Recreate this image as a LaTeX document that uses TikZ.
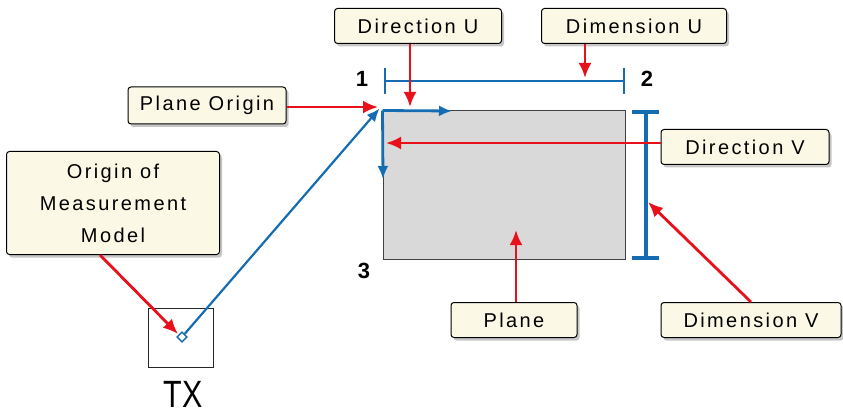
\documentclass[tikz,border=0pt]{standalone}
\usepackage{fontspec}
\setmainfont{Liberation Sans}[LetterSpace=12]
\newfontfamily\txfont{Liberation Sans}[FakeStretch=0.8]
\newfontfamily\numfont{Liberation Sans}[BoldFont={Liberation Sans Bold}]
\usepackage{xcolor}
\usepackage{tikz}
\usetikzlibrary{arrows.meta,positioning,shadows}
\definecolor{callfill}{RGB}{251,249,230}
\definecolor{dimblue}{RGB}{22,108,178}
\definecolor{callred}{RGB}{232,16,26}
\definecolor{planegray}{RGB}{217,217,217}

\begin{document}
\begin{tikzpicture}[
    x=1pt, y=-1pt,
    every node/.style={font=\fontsize{20}{23}\selectfont},
    callout/.style={draw=black, fill=callfill, rounded corners=3pt, line width=1pt,
      inner sep=0pt, minimum height=35pt, align=center,
      drop shadow={shadow xshift=2.5pt, shadow yshift=-3pt, opacity=.45}},
    pointer/.style={-{Latex[length=15pt, width=13pt]}, draw=callred, line width=2.8pt},
    vector/.style={-{Latex[length=13pt, width=11pt]}, draw=dimblue, line width=2.8pt},
    dimline/.style={draw=dimblue, line width=2.4pt},
    num/.style={font=\numfont\fontsize{22}{24}\selectfont\bfseries}
  ]
    \useasboundingbox (0,0) rectangle (843,414);

    % the plane and its vectors
    \node[draw=black!75, fill=planegray, line width=1pt, minimum width=242pt,
      minimum height=148pt, inner sep=0pt] (plane) at (504,185) {};
    \coordinate (uend) at (452,111);
    \coordinate (vend) at (383,179);
    \draw[vector] (plane.north west) -- (uend);
    \draw[vector] (plane.north west) -- (vend);

    % dimension U
    \coordinate (du1) at (385,81);
    \coordinate (du2) at (624,81);
    \draw[dimline] (du1) -- (du2);
    \draw[dimline, line width=2.8pt] ([yshift=13pt]du1) -- ([yshift=-13pt]du1);
    \draw[dimline, line width=2.8pt] ([yshift=13pt]du2) -- ([yshift=-13pt]du2);

    % dimension V
    \coordinate (dv1) at (646,112);
    \coordinate (dv2) at (646,258);
    \draw[dimline, line width=3.2pt] (dv1) -- (dv2);
    \draw[dimline, line width=3.8pt] ([xshift=-14pt]dv1) -- ([xshift=13pt]dv1);
    \draw[dimline, line width=3.8pt] ([xshift=-14pt]dv2) -- ([xshift=13pt]dv2);

    \node[num] (n1) at (362,79) {1};
    \node[num] (n2) at (647,79) {2};
    \node[num] (n3) at (364,271) {3};

    % TX and its origin
    \node[draw=black!85, line width=0.8pt, minimum width=65pt, minimum height=59pt,
      inner sep=0pt] (tx) at (180.5,337.5) {};
    \node[font=\txfont\fontsize{38}{38}\selectfont] (txlabel) at (183,394) {TX};
    \node[draw=dimblue, fill=white, line width=1.4pt, rotate=45, minimum size=7pt,
      inner sep=0pt] (org) at (182,337) {};
    \draw[vector, line width=2.2pt] (org) -- ([xshift=-3pt, yshift=2pt]plane.north west);

    % callouts
    \node[callout, minimum width=167pt] (dirU) at (418,26) {Direction U};
    \node[callout, minimum width=185pt] (dimU) at (634,26) {Dimension U};
    \node[callout, minimum width=158pt, minimum height=37pt] (porig) at (207,105.5) {Plane Origin};
    \node[callout, minimum width=213pt, minimum height=103pt,
      font=\fontsize{20}{32}\selectfont] (omm) at (113,203) {Origin of\\Measurement\\Model};
    \node[callout, minimum width=168pt] (dirV) at (745,147) {Direction V};
    \node[callout, minimum width=126pt] (plab) at (514,320) {Plane};
    \node[callout, minimum width=180pt] (dimV) at (751,320) {Dimension V};

    % pointers
    \coordinate (tDirU) at (410,107);
    \coordinate (tDimU) at (585,78);
    \coordinate (tPorig) at (378,107);
    \coordinate (tOmm) at (178,334);
    \coordinate (tDirV) at (386,143);
    \coordinate (tPlane) at (516,230);
    \coordinate (tDimV) at (648,202);
    \draw[pointer] (dirU.south -| tDirU) -- (tDirU);
    \draw[pointer] (dimU.south -| tDimU) -- (tDimU);
    \draw[pointer] (porig.east |- tPorig) -- (tPorig);
    \draw[pointer] ([xshift=-13pt]omm.south) -- (tOmm);
    \draw[pointer] (dirV.west |- tDirV) -- (tDirV);
    \draw[pointer] (plab.north -| tPlane) -- (tPlane);
    \draw[pointer] (dimV.north) -- (tDimV);
\end{tikzpicture}
\end{document}
